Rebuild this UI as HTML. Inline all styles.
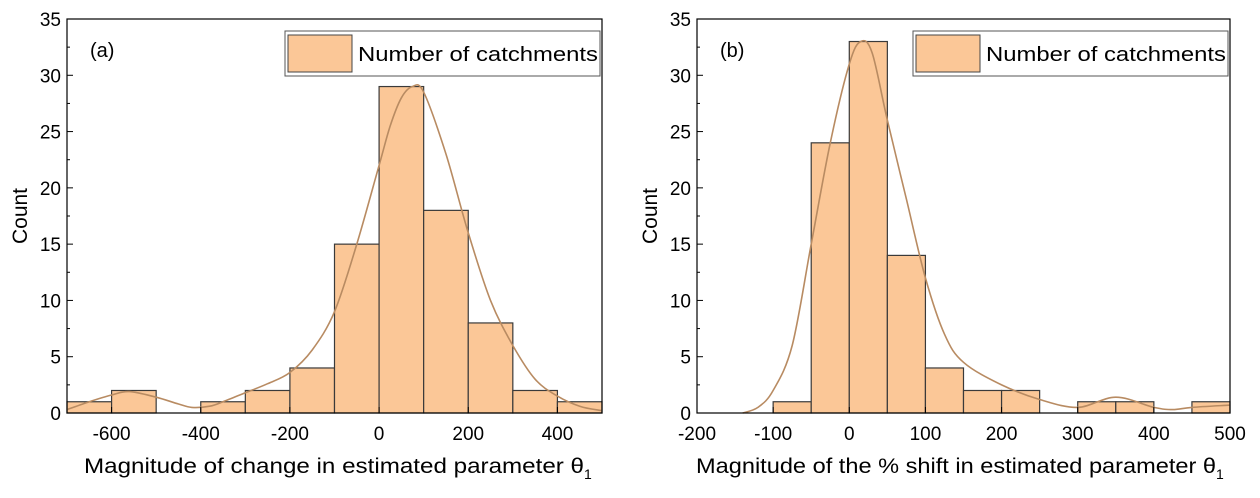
<!DOCTYPE html>
<html><head><meta charset="utf-8"><style>
body{margin:0;background:#fff;}
svg text{font-family:"Liberation Sans",sans-serif;fill:#000;}
</style></head><body>
<svg id="s" width="1260" height="493" xmlns="http://www.w3.org/2000/svg"></svg>
<script>
const leftBinStart=-700, leftBinWidth=100;
const leftCounts=[1,2,0,1,2,4,15,29,18,8,2,1];
const leftXTicks=[-600,-400,-200,0,200,400];
const leftCurveX=[-700,-650,-600,-560,-500,-450,-420,-380,-350,-300,-250,-200,-150,-100,-50,0,25,50,75,100,150,200,250,300,350,400,450,500];
const leftCurveY=[0.3,1.0,1.6,1.9,1.4,0.8,0.5,0.6,1.0,1.8,2.6,3.6,5.6,9.0,15,22,25.5,28,29,28.5,23,16,10,6,3,1.5,0.6,0.2];
const rightBinStart=-100, rightBinWidth=50;
const rightCounts=[1,24,33,14,4,2,2,0,1,1,0,1];
const rightXTicks=[-200,-100,0,100,200,300,400,500];
const rightCurveX=[-140,-120,-100,-75,-50,-25,0,15,30,50,75,100,125,150,200,250,300,350,400,425,450,500];
const rightCurveY=[0,0.5,2,6,15,24,31,33,32,26,19,12,7,4.5,2.5,1.2,0.5,1.4,0.5,0.3,0.5,0.7];
const yTicks=[0,5,10,15,20,25,30,35];
const NS="http://www.w3.org/2000/svg";
const svg=document.getElementById('s');
function mk(tag,attrs,parent){const e=document.createElementNS(NS,tag);for(const k in attrs)e.setAttribute(k,attrs[k]);(parent||svg).appendChild(e);return e;}
function smooth(pts){
  let d='M'+pts[0][0].toFixed(1)+','+pts[0][1].toFixed(1);
  for(let i=0;i<pts.length-1;i++){
    const p0=pts[Math.max(0,i-1)],p1=pts[i],p2=pts[i+1],p3=pts[Math.min(pts.length-1,i+2)];
    const c1=[p1[0]+(p2[0]-p0[0])/6,p1[1]+(p2[1]-p0[1])/6];
    const c2=[p2[0]-(p3[0]-p1[0])/6,p2[1]-(p3[1]-p1[1])/6];
    d+='C'+c1.map(v=>v.toFixed(1)).join(',')+' '+c2.map(v=>v.toFixed(1)).join(',')+' '+p2.map(v=>v.toFixed(1)).join(',');
  }
  return d;
}
function panel(cfg){
  const g=mk('g',{});
  
  
  const L=cfg.x0,R=cfg.x1,T=19,B=413;
  const sx=v=>L+(v-cfg.xmin)/(cfg.xmax-cfg.xmin)*(R-L);
  const sy=v=>B-v/35*(B-T);
  cfg.counts.forEach((c,i)=>{
    if(c<=0)return;
    const a=cfg.binStart+i*cfg.binWidth;
    const r=mk('rect',{x:sx(a),y:sy(c),width:sx(a+cfg.binWidth)-sx(a),height:B-sy(c),fill:'#fbc797',stroke:'#3a3a3a','stroke-width':1.2},g);
    
    
  });
  const pts=cfg.cx.map((x,i)=>[sx(x),sy(cfg.cy[i])]);
  const p=mk('path',{d:smooth(pts),fill:'none',stroke:'#b88b62','stroke-width':1.6},g);
  
  
  const f=mk('rect',{x:L,y:T,width:R-L,height:B-T,fill:'none',stroke:'#000','stroke-width':1.2},g);
  
  
  yTicks.forEach(v=>{
    mk('line',{x1:L,x2:L+6,y1:sy(v),y2:sy(v),stroke:'#000'},g);
    if(v<35)mk('line',{x1:L,x2:L+3,y1:sy(v+2.5),y2:sy(v+2.5),stroke:'#000'},g);
    const t=mk('text',{x:L-6,y:sy(v)+7,'text-anchor':'end','font-size':19},g);
    t.textContent=v;
    
    
  });
  cfg.xt.forEach(v=>{
    mk('line',{x1:sx(v),x2:sx(v),y1:B,y2:B-6,stroke:'#000'},g);
    const t=mk('text',{x:sx(v),y:B+27,'text-anchor':'middle','font-size':19},g);
    t.textContent=v;
    
    
  });
  const yt=mk('text',{x:0,y:0,transform:`translate(${L-40},216) rotate(-90)`,'text-anchor':'middle','font-size':21},g);
  yt.textContent='Count';
  
  
  const xt=mk('text',{x:cfg.tx,y:473,'font-size':21},g);
  const ts=mk('tspan',{textLength:cfg.tw,lengthAdjust:'spacingAndGlyphs'},xt);
  ts.textContent=cfg.title+' θ';
  const sub=mk('tspan',{'font-size':14,dy:6},xt);
  sub.textContent='1';
  
  
  const lab=mk('text',{x:L+23,y:57,'font-size':20},g);
  lab.textContent=cfg.label;
  
  
  const lg=mk('g',{},g);
  
  
  mk('rect',{x:R-317,y:31,width:315,height:45,fill:'#fff',stroke:'#555'},lg);
  mk('rect',{x:R-314,y:35,width:64,height:37,fill:'#fbc797',stroke:'#444'},lg);
  const lt=mk('text',{x:R-244,y:61,'font-size':20,textLength:240,lengthAdjust:'spacingAndGlyphs'},lg);
  lt.textContent='Number of catchments';
}
panel({name:'panel-a',x0:67,x1:602,xmin:-700,xmax:500,binStart:leftBinStart,binWidth:leftBinWidth,counts:leftCounts,cx:leftCurveX,cy:leftCurveY,xt:leftXTicks,title:'Magnitude of change in estimated parameter',label:'(a)',tx:84,tw:500});
panel({name:'panel-b',x0:697,x1:1230,xmin:-200,xmax:500,binStart:rightBinStart,binWidth:rightBinWidth,counts:rightCounts,cx:rightCurveX,cy:rightCurveY,xt:rightXTicks,title:'Magnitude of the % shift in estimated parameter',label:'(b)',tx:696,tw:520});
</script>
</body></html>
